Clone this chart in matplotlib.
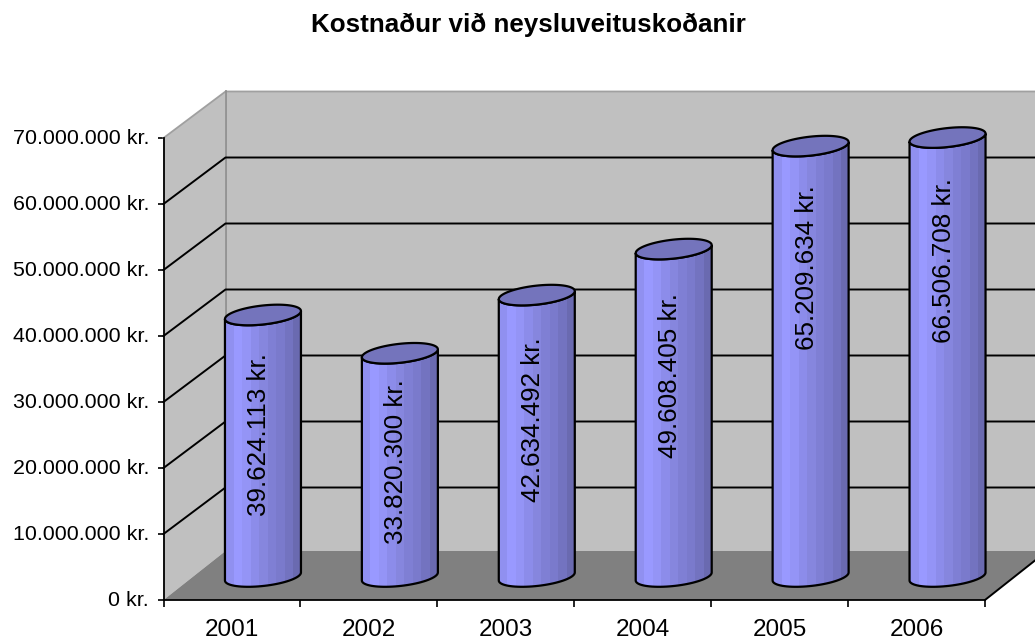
import numpy as np
import matplotlib
matplotlib.use('Agg')
import matplotlib.pyplot as plt
from matplotlib.colors import to_rgb
from matplotlib.patches import Polygon

plt.rcParams['font.family'] = ['Liberation Sans', 'DejaVu Sans']

# data
ar = ['2001', '2002', '2003', '2004', '2005', '2006']
kostnadur = [39624113, 33820300, 42634492, 49608405, 65209634, 66506708]
y_ticks = [0, 10000000, 20000000, 30000000, 40000000, 50000000, 60000000, 70000000]
titill = 'Kostnaður við neysluveituskoðanir'

# label shift below top of each bar, in pixels
label_drop = [120, 108, 125, 126, 122, 123]
# cylinder shading, left to right
bands = ['#9090F0', '#9999FF', '#9494F6', '#8C8CEA', '#8686DE', '#7F7FD4', '#7A7ACC', '#7373C0', '#6A6AB0']


def kr(v):
    return f'{v:,}'.replace(',', '.') + ' kr.'


W, H = 1035, 641
fig = plt.figure(figsize=(W / 100, H / 100), dpi=100, facecolor='white')
ax = fig.add_axes([163.5 / W, (H - 600) / H, 821.5 / W, 462 / H], facecolor='none')

ymax = 70000000
px = len(ar) / 821.5     # one pixel in x data units
py = ymax / 462          # one pixel in y data units
dx, dy = 62 * px, 46.5 * py   # depth of the 3D box
floor_dy = 49 * py
n = len(ar)

# walls and floor
ax.add_patch(Polygon([(dx, floor_dy), (dx + n, floor_dy), (dx + n, ymax + dy), (dx, ymax + dy)],
                     fc='#C0C0C0', ec='none', clip_on=False, zorder=1))
ax.add_patch(Polygon([(0, 0), (dx, floor_dy), (dx, ymax + dy), (0, ymax)],
                     fc='#C0C0C0', ec='none', clip_on=False, zorder=1))
ax.add_patch(Polygon([(0, 0), (n, 0), (n + dx, floor_dy), (dx, floor_dy)],
                     fc='#808080', ec='none', clip_on=False, zorder=1.5))

# grey box edges
ax.plot([0, dx, n + dx], [ymax, ymax + dy, ymax + dy], color='#A0A0A0', lw=1.3, clip_on=False, zorder=2)
ax.plot([dx, dx], [floor_dy, ymax + dy], color='#909090', lw=1.3, clip_on=False, zorder=2)

# gridlines on side wall and back wall
for v in y_ticks[1:-1]:
    ax.plot([0, dx, n + dx], [v, v + dy, v + dy], color='black', lw=1.4, clip_on=False, zorder=2)
ax.plot([n, n + dx], [0, floor_dy], color='black', lw=1.4, clip_on=False, zorder=2)

# cylinders
rx = 38 * px
tilt = 4 * py
ry = 9.5 * py
band_rgb = np.array([[to_rgb(c) for c in bands]])
for i, v in enumerate(kostnadur):
    cx = i + 0.5 + dx / 2
    cy = 23.5 * py
    t = np.linspace(np.pi, 2 * np.pi, 40)
    bx = cx + rx * np.cos(t)
    low = tilt * np.cos(t) + ry * np.sin(t)
    outline = np.vstack([np.column_stack([bx, cy + low]),
                         np.column_stack([bx[::-1], cy + v + low[::-1]])])
    body = Polygon(outline, closed=True, fc='none', ec='black', lw=1.6, clip_on=False, zorder=4)
    ax.add_patch(body)
    img = ax.imshow(band_rgb, extent=(cx - rx, cx + rx, cy - 2 * ry, cy + v + 2 * ry),
                    aspect='auto', interpolation='nearest', zorder=3)
    img.set_clip_path(Polygon(outline, closed=True, transform=ax.transData))

    t2 = np.linspace(0, 2 * np.pi, 80)
    top = np.column_stack([cx + rx * np.cos(t2), cy + v + tilt * np.cos(t2) + ry * np.sin(t2)])
    ax.add_patch(Polygon(top, closed=True, fc='#7474BC', ec='black', lw=1.6, clip_on=False, zorder=5))

    ax.text(cx - 3.5 * px, cy + v - label_drop[i] * py, kr(v), rotation=90, ha='center', va='center',
            fontsize=18.7, color='black', zorder=6)

ax.set_xlim(0, n)
ax.set_ylim(0, ymax)

# axes on the front plane
for s in ['top', 'right']:
    ax.spines[s].set_visible(False)
for s in ['left', 'bottom']:
    ax.spines[s].set_linewidth(1.3)
    ax.spines[s].set_zorder(2.5)
ax.set_yticks(y_ticks)
ax.set_yticklabels([kr(v) for v in y_ticks], fontsize=15.4, va='center')
ax.tick_params(axis='y', length=4.5, width=1.2, pad=6)
ax.set_xticks(range(n + 1))
ax.set_xticklabels([])
ax.tick_params(axis='x', which='major', length=5, width=1.2)
ax.set_xticks(np.arange(n) + 0.5, minor=True)
ax.set_xticklabels(ar, minor=True, fontsize=17.5)
ax.tick_params(axis='x', which='minor', length=0, pad=14)

fig.text(528 / W, 1 - 32 / H, titill, ha='center', va='baseline', fontsize=18.7, fontweight='bold')

fig.savefig('out.png', dpi=100)
